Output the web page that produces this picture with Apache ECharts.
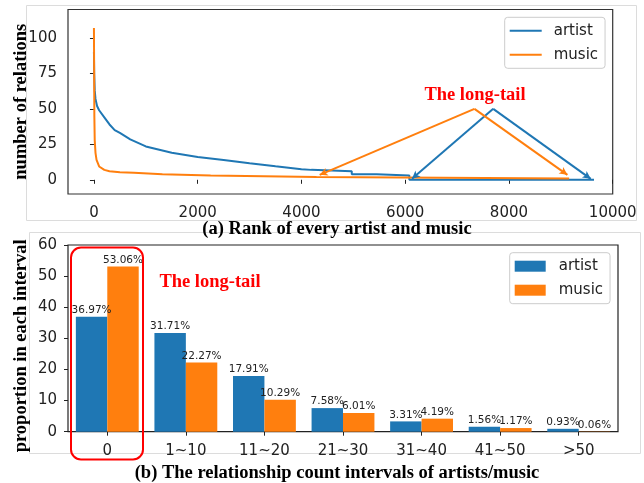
<!DOCTYPE html>
<html>
<head>
<meta charset="utf-8">
<script src="https://cdn.jsdelivr.net/npm/echarts@6/dist/echarts.min.js"></script>
<style>
html, body { margin: 0; padding: 0; background: #fff; }
#main { width: 644px; height: 483px; }
</style>
</head>
<body>
<div id="main"></div>
<script>
// (a) rank curves: points the line passes through (a repeated rank is a drop of the count)
const artistRanks  = [0, 5, 15, 30, 60, 100, 200, 300, 400, 500, 700, 1000, 1500, 2000, 2500, 3000, 3500, 4000, 4190, 4190, 4970, 4970, 5450, 5450, 6080, 6080, 9640];
const artistCounts = [90, 75, 63, 57, 52, 49, 44, 39, 35, 33, 28.5, 23.5, 19, 16, 14, 11.7, 9.5, 7.5, 7, 6, 6, 4, 4, 3, 3, 0, 0];
const musicRanks   = [0, 8, 15, 30, 50, 100, 200, 300, 500, 770, 770, 1320, 1320, 2250, 2250, 4290, 4290, 9160];
const musicCounts  = [107, 45, 28, 19, 14, 9.4, 7, 6, 5.3, 5, 4, 4, 3, 3, 2, 2, 1, 1];
const rankTicks  = [0, 2000, 4000, 6000, 8000, 10000];
const countTicks = [0, 25, 50, 75, 100];

// "The long-tail" arrows: tail at the label, then the two heads
const musicArrowFrom  = [7335, 50];
const musicArrowTo    = [[4352, 3.5], [9127, 3.5]];
const artistArrowFrom = [7697, 50];
const artistArrowTo   = [[6131, 0.7], [9577, 0.7]];

// (b) share of items in each relation count interval (%)
const intervals   = ['0', '1~10', '11~20', '21~30', '31~40', '41~50', '>50'];
const artistShare = [36.97, 31.71, 17.91, 7.58, 3.31, 1.56, 0.93];
const musicShare  = [53.06, 22.27, 10.29, 6.01, 4.19, 1.17, 0.06];

const BLUE = '#1f77b4';
const ORANGE = '#ff7f0e';
const SANS = 'DejaVu Sans';
const SERIF = '"Liberation Serif", "Times New Roman", serif';
const LINE_ICON = 'path://M0,0 L32,0 L32,2 L0,2 Z';

function pairs(xs, ys) {
    return xs.map(function (x, i) { return [x, ys[i]]; });
}

function arrows(from, tos, color) {
    return {
        silent: true,
        symbol: ['none', 'arrow'],
        symbolSize: [6, 8],
        label: { show: false },
        lineStyle: { color: color, width: 2, type: 'solid' },
        emphasis: { disabled: true },
        data: tos.map(function (to) {
            return [{ coord: from }, { coord: to }];
        })
    };
}

const axisText = { color: '#222', fontFamily: SANS, fontSize: 15 };
const tickStyle = { lineStyle: { color: '#222', width: 1 } };
const nameStyle = { color: '#000', fontFamily: SERIF, fontSize: 18.5, fontWeight: 'bold' };
const plain = function (v) { return String(v); };

const chart = echarts.init(document.getElementById('main'));

const option = {
    animation: false,
    backgroundColor: '#fff',
    grid: [
        { left: 68, top: 9.5, width: 544.7, height: 184.5, outerBoundsMode: 'none', show: true, borderColor: '#333', borderWidth: 1.2, backgroundColor: 'transparent' },
        { left: 68, top: 245, width: 550, height: 186.7, outerBoundsMode: 'none', show: true, borderColor: '#222', borderWidth: 1.2, backgroundColor: 'transparent' }
    ],
    xAxis: [
        {
            gridIndex: 0, type: 'value', min: -500, max: 10000,
            axisLine: { show: false },
            axisTick: Object.assign({ show: true, length: 4, customValues: rankTicks }, tickStyle),
            axisLabel: Object.assign({ margin: 12, customValues: rankTicks, formatter: plain }, axisText),
            splitLine: { show: false }
        },
        {
            gridIndex: 1, type: 'category', data: intervals,
            axisLine: { show: false },
            axisTick: Object.assign({ show: true, length: 4, alignWithLabel: true }, tickStyle),
            axisLabel: Object.assign({ margin: 12, interval: 0 }, axisText),
            splitLine: { show: false }
        }
    ],
    yAxis: [
        {
            gridIndex: 0, type: 'value', min: -10, max: 120,
            name: 'number of relations', nameLocation: 'middle', nameGap: 37, nameRotate: 90,
            nameMoveOverlap: false,
            nameTextStyle: nameStyle,
            axisLine: { show: false },
            axisTick: Object.assign({ show: true, length: 4, customValues: countTicks }, tickStyle),
            axisLabel: Object.assign({ margin: 11, customValues: countTicks, formatter: plain }, axisText),
            splitLine: { show: false }
        },
        {
            gridIndex: 1, type: 'value', min: 0, max: 60, interval: 10,
            name: 'proportion in each interval', nameLocation: 'middle', nameGap: 37, nameRotate: 90,
            nameMoveOverlap: false,
            nameTextStyle: Object.assign({ padding: [0, 15, 0, 0] }, nameStyle),
            axisLine: { show: false },
            axisTick: Object.assign({ show: true, length: 4 }, tickStyle),
            axisLabel: Object.assign({ margin: 11 }, axisText),
            splitLine: { show: false }
        }
    ],
    legend: [
        {
            left: 504.7, top: 17.3, orient: 'vertical',
            data: [{ name: 'artist', icon: LINE_ICON }, { name: 'music', icon: LINE_ICON }],
            itemWidth: 32, itemHeight: 14, itemGap: 9,
            padding: [6, 7, 6, 5],
            backgroundColor: '#fff', borderColor: '#ccc', borderWidth: 1, borderRadius: 3,
            textStyle: { color: '#222', fontFamily: SANS, fontSize: 15, padding: [0, 0, 0, 7] },
            selectedMode: false
        },
        {
            left: 509.7, top: 252.7, orient: 'vertical',
            data: [{ name: 'artist', icon: 'rect' }, { name: 'music', icon: 'rect' }],
            itemWidth: 31, itemHeight: 11, itemGap: 9,
            padding: [6, 7, 6, 5],
            backgroundColor: '#fff', borderColor: '#ccc', borderWidth: 1, borderRadius: 3,
            textStyle: { color: '#222', fontFamily: SANS, fontSize: 15, padding: [0, 0, 0, 8] },
            selectedMode: false
        }
    ],
    series: [
        {
            name: 'artist', type: 'line', xAxisIndex: 0, yAxisIndex: 0,
            data: pairs(artistRanks, artistCounts),
            symbol: 'none', color: BLUE,
            lineStyle: { color: BLUE, width: 2 },
            markLine: arrows(artistArrowFrom, artistArrowTo, BLUE)
        },
        {
            name: 'music', type: 'line', xAxisIndex: 0, yAxisIndex: 0,
            data: pairs(musicRanks, musicCounts),
            symbol: 'none', color: ORANGE,
            lineStyle: { color: ORANGE, width: 2 },
            markLine: arrows(musicArrowFrom, musicArrowTo, ORANGE)
        },
        {
            name: 'artist', type: 'bar', xAxisIndex: 1, yAxisIndex: 1,
            data: artistShare, barWidth: '40%', barGap: '0%',
            itemStyle: { color: BLUE },
            label: { show: true, position: 'top', distance: 1, formatter: '{c}%', color: '#222', fontFamily: SANS, fontSize: 10.5 }
        },
        {
            name: 'music', type: 'bar', xAxisIndex: 1, yAxisIndex: 1,
            data: musicShare, barWidth: '40%', barGap: '0%',
            itemStyle: { color: ORANGE },
            label: { show: true, position: 'top', distance: 1, formatter: '{c}%', color: '#222', fontFamily: SANS, fontSize: 10.5 }
        }
    ],
    graphic: [
        // light frames of the two pasted panels
        { type: 'rect', z: -10, silent: true, shape: { x: 26.5, y: 5.5, width: 610, height: 215 }, style: { fill: 'none', stroke: '#dcdcdc', lineWidth: 1 } },
        { type: 'rect', z: -10, silent: true, shape: { x: 29.5, y: 232.5, width: 611, height: 221 }, style: { fill: 'none', stroke: '#dcdcdc', lineWidth: 1 } },
        // red box round the "0" group
        { type: 'rect', z: 100, silent: true, shape: { x: 71, y: 247.5, width: 72, height: 212, r: 10 }, style: { fill: 'none', stroke: '#ff0000', lineWidth: 2 } },
        { type: 'text', z: 100, x: 475, y: 95, style: { text: 'The long-tail', fill: '#ff0000', font: 'bold 18.5px ' + SERIF, align: 'center', verticalAlign: 'middle' } },
        { type: 'text', z: 100, x: 210, y: 282, style: { text: 'The long-tail', fill: '#ff0000', font: 'bold 18.5px ' + SERIF, align: 'center', verticalAlign: 'middle' } },
        { type: 'text', z: 100, x: 337, y: 229, style: { text: '(a) Rank of every artist and music', fill: '#000', font: 'bold 18.5px ' + SERIF, align: 'center', verticalAlign: 'middle' } },
        { type: 'text', z: 100, x: 337, y: 473, style: { text: '(b) The relationship count intervals of artists/music', fill: '#000', font: 'bold 18.5px ' + SERIF, align: 'center', verticalAlign: 'middle' } }
    ]
};

chart.setOption(option);
</script>
</body>
</html>
